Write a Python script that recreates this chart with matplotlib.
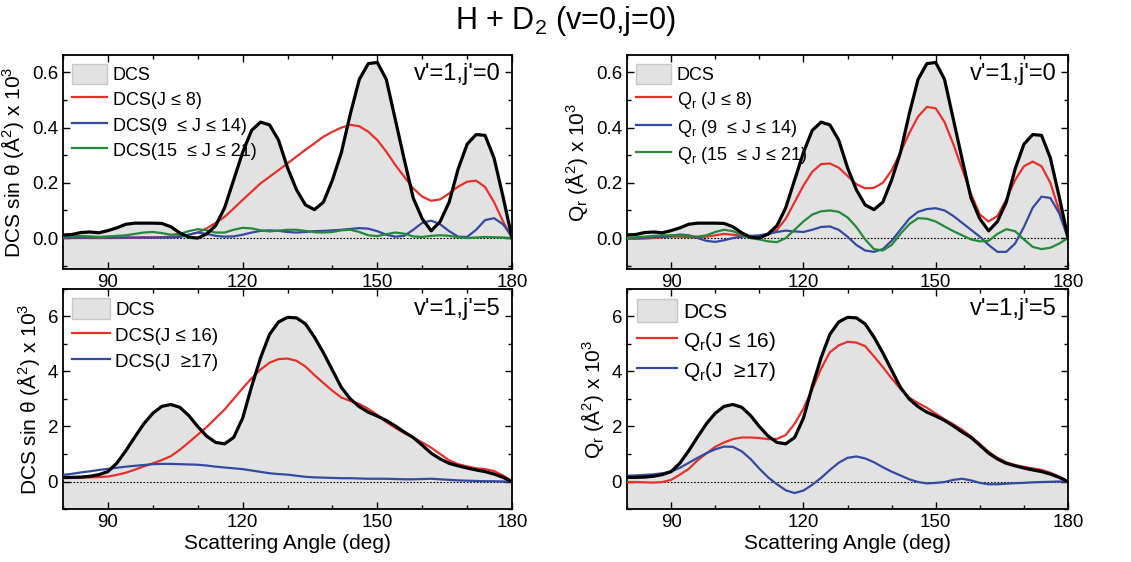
import numpy as np
import matplotlib
matplotlib.use("Agg")
import matplotlib.pyplot as plt
import matplotlib.patches as mpatches
from matplotlib.ticker import MultipleLocator

plt.rcParams['font.family'] = ['Liberation Sans', 'DejaVu Sans']
plt.rcParams['mathtext.fontset'] = 'custom'
plt.rcParams['mathtext.rm'] = 'Liberation Sans'
plt.rcParams['mathtext.it'] = 'Liberation Sans'

# scattering angle grid (deg)
angle = np.arange(80, 181, 2)

# v'=1, j'=0 : total DCS sin(theta)
dcs_j0 = [0.011, 0.013, 0.020, 0.022, 0.019, 0.027, 0.037, 0.050, 0.054, 0.054,
          0.054, 0.053, 0.041, 0.019, 0.003, 0.000, 0.015, 0.045, 0.110, 0.210,
          0.310, 0.390, 0.420, 0.410, 0.355, 0.255, 0.175, 0.120, 0.103, 0.130,
          0.210, 0.310, 0.450, 0.575, 0.632, 0.636, 0.575, 0.430, 0.285, 0.145,
          0.070, 0.026, 0.060, 0.130, 0.250, 0.340, 0.375, 0.372, 0.290, 0.150,
          0.000]
# partial-wave DCS contributions, v'=1, j'=0
dcs_j0_low = [0.000, 0.000, 0.000, 0.000, 0.000, 0.000, 0.000, 0.001, 0.001, 0.002,
              0.002, 0.003, 0.005, 0.007, 0.012, 0.020, 0.035, 0.055, 0.077, 0.107,
              0.138, 0.168, 0.198, 0.222, 0.246, 0.270, 0.295, 0.320, 0.343, 0.367,
              0.385, 0.400, 0.410, 0.405, 0.385, 0.355, 0.313, 0.265, 0.222, 0.180,
              0.150, 0.135, 0.140, 0.162, 0.186, 0.204, 0.208, 0.185, 0.130, 0.060,
              0.000]
dcs_j0_mid = [0.002, 0.002, 0.002, 0.002, 0.002, 0.002, 0.002, 0.002, 0.002, 0.002,
              0.002, 0.002, 0.002, 0.004, 0.012, 0.020, 0.015, 0.008, 0.005, 0.006,
              0.012, 0.020, 0.026, 0.028, 0.026, 0.022, 0.020, 0.022, 0.025, 0.026,
              0.028, 0.030, 0.033, 0.036, 0.034, 0.025, 0.012, 0.005, 0.008, 0.030,
              0.055, 0.063, 0.050, 0.025, 0.005, 0.004, 0.030, 0.065, 0.072, 0.050,
              0.005]
dcs_j0_high = [0.005, 0.006, 0.008, 0.006, 0.004, 0.006, 0.008, 0.010, 0.015, 0.020,
               0.022, 0.018, 0.012, 0.015, 0.025, 0.032, 0.028, 0.020, 0.020, 0.030,
               0.037, 0.035, 0.028, 0.024, 0.027, 0.030, 0.030, 0.026, 0.021, 0.020,
               0.022, 0.028, 0.030, 0.022, 0.010, 0.007, 0.014, 0.020, 0.016, 0.006,
               0.004, 0.008, 0.010, 0.008, 0.003, 0.000, 0.002, 0.004, 0.003, 0.002,
               0.000]
# reactive flux Q_r contributions, v'=1, j'=0
qr_j0_low = [-0.003, -0.003, -0.002, 0.000, 0.003, 0.005, 0.005, 0.003, 0.002, 0.005,
             0.010, 0.015, 0.012, 0.008, 0.005, 0.006, 0.012, 0.030, 0.070, 0.130,
             0.190, 0.240, 0.268, 0.270, 0.255, 0.225, 0.195, 0.180, 0.182, 0.200,
             0.245, 0.310, 0.380, 0.440, 0.475, 0.470, 0.420, 0.340, 0.250, 0.160,
             0.085, 0.060, 0.080, 0.140, 0.210, 0.260, 0.277, 0.260, 0.200, 0.100,
             0.000]
qr_j0_mid = [0.000, 0.000, 0.002, 0.003, 0.004, 0.008, 0.013, 0.010, 0.000, -0.010,
             -0.014, -0.008, 0.000, 0.005, 0.008, 0.010, 0.015, 0.022, 0.027, 0.024,
             0.022, 0.030, 0.040, 0.042, 0.030, 0.005, -0.025, -0.045, -0.050, -0.040,
             -0.010, 0.030, 0.070, 0.095, 0.105, 0.108, 0.100, 0.080, 0.055, 0.030,
             0.005, -0.025, -0.050, -0.050, -0.020, 0.040, 0.110, 0.150, 0.145, 0.090,
             0.000]
qr_j0_high = [0.000, 0.003, 0.005, 0.008, 0.010, 0.010, 0.010, 0.008, 0.005, 0.010,
              0.022, 0.030, 0.025, 0.012, 0.000, -0.005, -0.012, -0.015, 0.000, 0.030,
              0.060, 0.085, 0.097, 0.100, 0.095, 0.075, 0.040, -0.005, -0.040, -0.045,
              -0.025, 0.015, 0.050, 0.072, 0.070, 0.060, 0.042, 0.025, 0.010, -0.005,
              -0.012, -0.010, 0.015, 0.032, 0.025, -0.005, -0.032, -0.040, -0.035, -0.020,
              0.000]

# v'=1, j'=5 : total DCS sin(theta)
dcs_j5 = [0.15, 0.15, 0.16, 0.19, 0.25, 0.36, 0.67, 1.12, 1.62, 2.10,
          2.48, 2.73, 2.80, 2.70, 2.40, 2.00, 1.65, 1.42, 1.37, 1.60,
          2.30, 3.45, 4.50, 5.35, 5.80, 5.97, 5.95, 5.73, 5.25, 4.68,
          4.05, 3.42, 3.00, 2.72, 2.52, 2.38, 2.22, 2.02, 1.80, 1.60,
          1.32, 1.03, 0.82, 0.66, 0.57, 0.49, 0.42, 0.36, 0.27, 0.15,
          0.00]
dcs_j5_low = [0.12, 0.13, 0.14, 0.15, 0.16, 0.18, 0.24, 0.32, 0.43, 0.55,
              0.66, 0.78, 0.92, 1.15, 1.42, 1.70, 1.98, 2.30, 2.62, 3.00,
              3.39, 3.75, 4.07, 4.32, 4.45, 4.47, 4.39, 4.18, 3.87, 3.58,
              3.30, 3.05, 2.93, 2.82, 2.64, 2.42, 2.16, 1.95, 1.76, 1.60,
              1.42, 1.23, 1.00, 0.77, 0.63, 0.55, 0.48, 0.45, 0.38, 0.22,
              0.00]
dcs_j5_high = [0.24, 0.28, 0.33, 0.37, 0.42, 0.46, 0.50, 0.54, 0.57, 0.60,
               0.63, 0.64, 0.64, 0.63, 0.62, 0.61, 0.58, 0.54, 0.51, 0.48,
               0.45, 0.40, 0.35, 0.30, 0.27, 0.25, 0.21, 0.17, 0.15, 0.14,
               0.13, 0.12, 0.12, 0.11, 0.10, 0.10, 0.10, 0.09, 0.08, 0.08,
               0.09, 0.10, 0.08, 0.06, 0.04, 0.03, 0.02, 0.01, 0.01, 0.00,
               0.00]
qr_j5_low = [-0.02, -0.02, -0.03, -0.04, -0.02, 0.06, 0.25, 0.46, 0.77, 1.02,
             1.26, 1.42, 1.54, 1.60, 1.60, 1.58, 1.54, 1.55, 1.69, 2.10,
             2.65, 3.35, 4.10, 4.70, 4.95, 5.08, 5.05, 4.92, 4.55, 4.16,
             3.75, 3.37, 3.05, 2.85, 2.68, 2.47, 2.26, 2.08, 1.88, 1.64,
             1.37, 1.08, 0.86, 0.70, 0.60, 0.53, 0.48, 0.42, 0.32, 0.18,
             0.00]
qr_j5_high = [0.21, 0.22, 0.24, 0.26, 0.30, 0.36, 0.50, 0.68, 0.86, 1.03,
              1.17, 1.27, 1.26, 1.10, 0.82, 0.47, 0.15, -0.10, -0.32, -0.42,
              -0.33, -0.12, 0.13, 0.42, 0.68, 0.86, 0.91, 0.84, 0.70, 0.52,
              0.36, 0.22, 0.08, -0.02, -0.07, -0.05, -0.02, 0.06, 0.10, 0.04,
              -0.05, -0.10, -0.10, -0.08, -0.06, -0.05, -0.03, -0.02, -0.01, 0.00,
              0.00]

fill_grey = '#e2e2e2'
red, blue, green = '#e8302a', '#3549a0', '#24893a'

fig = plt.figure(figsize=(11.31, 5.62), dpi=100)
fig.text(0.5, 0.962, 'H + D$_2$ (v=0,j=0)', ha='center', va='center', fontsize=22)

ax_tl = fig.add_axes([0.0557, 0.5214, 0.397, 0.3807])
ax_tr = fig.add_axes([0.5544, 0.5214, 0.3899, 0.3807])
ax_bl = fig.add_axes([0.0557, 0.0943, 0.397, 0.3915])
ax_br = fig.add_axes([0.5544, 0.0943, 0.3899, 0.3915])


def panel(ax, total, parts, ylim, ymaj, ymin_step, ylabel, state, leg_size, hlen):
    ax.fill_between(angle, ylim[0], total, color=fill_grey, lw=0, zorder=1)
    ax.axhline(0, color='black', lw=0.8, ls=(0, (1.5, 1.5)), zorder=2)
    handles = [mpatches.Patch(facecolor=fill_grey, edgecolor='#c8c8c8', label='DCS')]
    for vals, col, lab in parts:
        h, = ax.plot(angle, vals, color=col, lw=1.6, zorder=3, label=lab)
        handles.append(h)
    ax.plot(angle, total, color='black', lw=2.3, zorder=4)
    ax.set_xlim(80, 180)
    ax.set_ylim(*ylim)
    ax.xaxis.set_major_locator(MultipleLocator(30))
    ax.xaxis.set_minor_locator(MultipleLocator(10))
    ax.yaxis.set_major_locator(MultipleLocator(ymaj))
    ax.yaxis.set_minor_locator(MultipleLocator(ymin_step))
    ax.tick_params(which='both', direction='in', top=True, right=True, labelsize=13.5)
    ax.tick_params(which='major', length=5, width=1)
    ax.tick_params(which='minor', length=3, width=1)
    for s in ax.spines.values():
        s.set_linewidth(1.3)
    ax.set_ylabel(ylabel, fontsize=15)
    ax.text(0.975, 0.91, state, transform=ax.transAxes, ha='right', va='center', fontsize=17)
    ax.legend(handles=handles, loc='upper left', frameon=False, fontsize=leg_size,
              handlelength=hlen, handleheight=1.3, handletextpad=0.3, labelspacing=0.3,
              borderaxespad=0.2, borderpad=0.3)


panel(ax_tl, dcs_j0,
      [(dcs_j0_low, red, 'DCS(J ≤ 8)'),
       (dcs_j0_mid, blue, 'DCS(9  ≤ J ≤ 14)'),
       (dcs_j0_high, green, 'DCS(15  ≤ J ≤ 21)')],
      (-0.112, 0.663), 0.2, 0.1, 'DCS sin θ (Å$^2$) x 10$^3$', "v'=1,j'=0", 13, 1.95)
panel(ax_tr, dcs_j0,
      [(qr_j0_low, red, 'Q$_r$ (J ≤ 8)'),
       (qr_j0_mid, blue, 'Q$_r$ (9  ≤ J ≤ 14)'),
       (qr_j0_high, green, 'Q$_r$ (15  ≤ J ≤ 21)')],
      (-0.112, 0.663), 0.2, 0.1, 'Q$_r$ (Å$^2$) x 10$^3$', "v'=1,j'=0", 13, 1.95)
panel(ax_bl, dcs_j5,
      [(dcs_j5_low, red, 'DCS(J ≤ 16)'),
       (dcs_j5_high, blue, 'DCS(J  ≥17)')],
      (-1, 7), 2, 1, 'DCS sin θ (Å$^2$) x 10$^3$', "v'=1,j'=5", 13.5, 2.0)
panel(ax_br, dcs_j5,
      [(qr_j5_low, red, 'Q$_r$(J ≤ 16)'),
       (qr_j5_high, blue, 'Q$_r$(J  ≥17)')],
      (-1, 7), 2, 1, 'Q$_r$ (Å$^2$) x 10$^3$', "v'=1,j'=5", 15, 1.9)

for ax in (ax_bl, ax_br):
    ax.set_xlabel('Scattering Angle (deg)', fontsize=15, labelpad=2)

fig.savefig('out.png', dpi=100)
